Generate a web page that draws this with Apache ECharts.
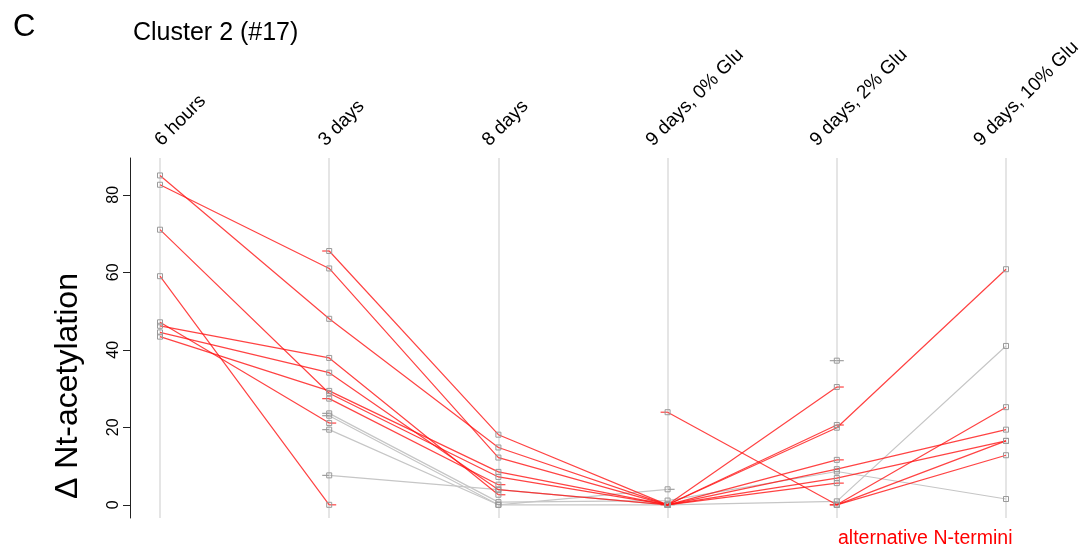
<!DOCTYPE html>
<html>
<head>
<meta charset="utf-8">
<script src="https://cdn.jsdelivr.net/npm/echarts@6/dist/echarts.min.js"></script>
<style>
  html, body { margin: 0; padding: 0; background: #fff; }
  #chart { width: 1087px; height: 548px; }
</style>
</head>
<body>
<div id="chart"></div>
<script>
// Time points / growth conditions
const categories = ['6 hours', '3 days', '8 days', '9 days, 0% Glu', '9 days, 2% Glu', '9 days, 10% Glu'];
const yTicks = [0, 20, 40, 60, 80];

// Δ Nt-acetylation per N-terminus (null = not quantified)
// alternative N-termini
const alt01 = [85.0, 48.0, 14.8, 0, 30.4, null];
const alt02 = [82.6, 61.0, 12.2, 0, 20.6, null];
const alt03 = [71.0, 28.8, 7.2, 0, 19.9, 60.8];
const alt04 = [59.0, 0, null, null, 0, 16.5];
const alt05 = [47.1, 21.1, null, 23.9, 0, 25.2];
const alt06 = [46.2, 37.9, 2.6, null, 0, 12.8];
const alt07 = [44.5, 34.1, 3.9, 0, 11.6, null];
const alt08 = [43.4, 29.4, 8.5, 0, 9.2, 19.4];
const alt09 = [null, 65.5, 18.1, 0, 6.9, 16.5];
const alt10 = [null, 27.4, 5.2, null, null, null];
const alt11 = [null, null, null, 0, 5.6, null];
// other N-termini
const oth01 = [null, 23.6, 0.7, 1.1, 8.6, 1.5];
const oth02 = [null, 23.0, 0, 4.0, null, null];
const oth03 = [null, 19.4, 0, 0, 0.9, 41.0];
const oth04 = [null, 7.6, 3.9, 0, null, null];
const oth05 = [null, null, null, null, 37.2, null];

const altRows = [alt01, alt02, alt03, alt04, alt05, alt06, alt07, alt08, alt09, alt10, alt11];
const othRows = [oth01, oth02, oth03, oth04, oth05];

const FONT = '"Liberation Sans", Arial, Helvetica, sans-serif';
const RED = 'rgba(255, 20, 20, 0.8)';
const GREY = '#c6c6c6';

function lineSeries(row, color, z) {
  return {
    type: 'line',
    data: row,
    z: z,
    connectNulls: false,
    symbol: 'rect',
    symbolSize: 5,
    showSymbol: true,
    lineStyle: { color: color, width: 1.2 },
    itemStyle: { color: 'rgba(0,0,0,0)', borderColor: '#9a9a9a', borderWidth: 1 },
    emphasis: { disabled: true },
    silent: true
  };
}

// Short horizontal stubs beside points whose neighbour is missing
function stubData(rows) {
  const out = [];
  rows.forEach(row => {
    row.forEach((v, i) => {
      if (v === null) return;
      if (i > 0 && row[i - 1] === null) out.push([i, v, -1]);
      if (i < row.length - 1 && row[i + 1] === null) out.push([i, v, 1]);
    });
  });
  return out;
}

function stubSeries(rows, color, z) {
  return {
    type: 'custom',
    z: z,
    silent: true,
    data: stubData(rows),
    renderItem: function (params, api) {
      const p = api.coord([api.value(0), api.value(1)]);
      const dir = api.value(2);
      return {
        type: 'line',
        shape: { x1: p[0], y1: p[1], x2: p[0] + dir * 7, y2: p[1] },
        style: { stroke: color, lineWidth: 1.2 }
      };
    }
  };
}

const series = [];
othRows.forEach(r => series.push(lineSeries(r, GREY, 2)));
series.push(stubSeries(othRows, '#a0a0a0', 2));
altRows.forEach(r => series.push(lineSeries(r, RED, 3)));
series.push(stubSeries(altRows, RED, 3));

const chart = echarts.init(document.getElementById('chart'));
chart.setOption({
  animation: false,
  backgroundColor: '#fff',
  title: [
    { text: 'C', left: 8, top: 7, textStyle: { fontSize: 31, fontWeight: 'normal', fontFamily: FONT, color: '#000' } },
    { text: 'Cluster 2 (#17)', left: 128, top: 16, textStyle: { fontSize: 25, fontWeight: 'normal', fontFamily: FONT, color: '#000' } }
  ],
  grid: [
    // plotting area
    { left: 160, right: 81, top: 158, bottom: 30, outerBoundsMode: 'none', containLabel: false },
    // header band carrying the slanted condition labels
    { left: 158, right: 110, top: 158, bottom: 30, outerBoundsMode: 'none', containLabel: false }
  ],
  xAxis: [
    {
      type: 'category',
      gridIndex: 0,
      data: categories,
      position: 'top',
      boundaryGap: false,
      axisLine: { show: false },
      axisTick: { show: false },
      axisLabel: { show: false },
      splitLine: { show: true, lineStyle: { color: '#dcdcdc', width: 1.5 } }
    },
    {
      type: 'category',
      gridIndex: 1,
      data: categories,
      position: 'top',
      boundaryGap: false,
      axisLine: { show: false },
      axisTick: { show: false },
      splitLine: { show: false },
      axisLabel: { interval: 0, rotate: 45, margin: 15, fontSize: 19, color: '#000', fontFamily: FONT, hideOverlap: false }
    }
  ],
  yAxis: [
    {
      type: 'value',
      gridIndex: 0,
      min: -3.4,
      max: 89.5,
      offset: 30,
      splitLine: { show: false },
      axisLine: { show: true, lineStyle: { color: '#222', width: 1 } },
      axisTick: { show: true, length: 7, customValues: yTicks, lineStyle: { color: '#222' } },
      axisLabel: { customValues: yTicks, rotate: 90, margin: 8, fontSize: 16, color: '#000', fontFamily: FONT }
    },
    { type: 'value', gridIndex: 1, show: false, min: 0, max: 1 }
  ],
  graphic: [
    {
      type: 'text', x: 68, y: 386, rotation: Math.PI / 2,
      style: { text: 'Δ Nt-acetylation', fontSize: 32, fontFamily: FONT, fill: '#000', align: 'center', verticalAlign: 'middle' }
    },
    {
      type: 'text', x: 838, y: 539,
      style: { text: 'alternative N-termini', fontSize: 19.5, fontFamily: FONT, fill: '#ff0000', align: 'left', verticalAlign: 'middle' }
    }
  ],
  series: series
});
</script>
</body>
</html>
